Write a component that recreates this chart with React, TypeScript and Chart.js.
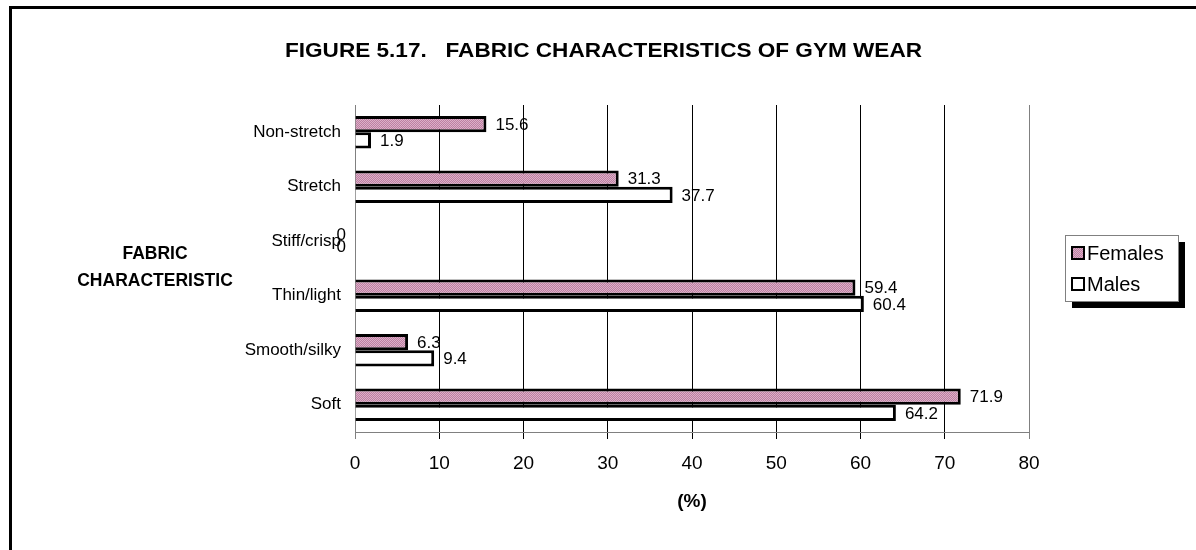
import React, { useEffect, useRef } from "react";
import { Chart, registerables } from "chart.js";

Chart.register(...registerables);

const categories = ["Non-stretch", "Stretch", "Stiff/crisp", "Thin/light", "Smooth/silky", "Soft"];
const femalesValues = [15.6, 31.3, 0, 59.4, 6.3, 71.9];
const malesValues = [1.9, 37.7, 0, 60.4, 9.4, 64.2];
const seriesNames = ["Females", "Males"];
const xTicks = [0, 10, 20, 30, 40, 50, 60, 70, 80];
const chartTitle = "FIGURE 5.17.   FABRIC CHARACTERISTICS OF GYM WEAR";
const yAxisTitle = ["FABRIC", "CHARACTERISTIC"];
const xAxisTitle = "(%)";

const FONT = "Arial, 'Liberation Sans', sans-serif";

function makePattern(): CanvasPattern | string {
  const c = document.createElement("canvas");
  c.width = 4;
  c.height = 4;
  const g = c.getContext("2d");
  if (!g) return "#cc99b8";
  g.fillStyle = "#dcb0c8";
  g.fillRect(0, 0, 4, 4);
  g.fillStyle = "#bd7fa2";
  for (let i = 0; i < 4; i++) {
    g.fillRect(i, (3 - i + 4) % 4, 1, 1);
    g.fillRect(i, (1 - i + 4) % 4, 1, 1);
  }
  const p = g.createPattern(c, "repeat");
  return p || "#cc99b8";
}

export default function App() {
  const ref = useRef<HTMLCanvasElement | null>(null);

  useEffect(() => {
    if (!ref.current) return;
    const pattern = makePattern();

    const decorPlugin = {
      id: "decor",
      afterDraw(chart: any) {
        const ctx = chart.ctx as CanvasRenderingContext2D;
        const area = chart.chartArea;
        ctx.save();
        // outer frame
        ctx.fillStyle = "#000";
        ctx.fillRect(9, 6, 1196 - 9, 3);
        ctx.fillRect(9, 6, 3, 550 - 6);

        // title
        ctx.fillStyle = "#000";
        ctx.font = `bold 20px ${FONT}`;
        ctx.textBaseline = "middle";
        ctx.textAlign = "left";
        const tw = ctx.measureText(chartTitle).width;
        const target = 637;
        ctx.save();
        ctx.translate(285, 51);
        ctx.scale(target / tw, 1);
        ctx.fillText(chartTitle, 0, 0);
        ctx.restore();

        // y axis title
        ctx.font = `bold 17.5px ${FONT}`;
        ctx.textAlign = "center";
        ctx.fillText(yAxisTitle[0], 155, 254);
        ctx.fillText(yAxisTitle[1], 155, 281);

        // x axis title
        ctx.font = `bold 19px ${FONT}`;
        ctx.fillText(xAxisTitle, (area.left + area.right) / 2, 502);

        // data labels
        ctx.font = `17px ${FONT}`;
        chart.data.datasets.forEach((ds: any, di: number) => {
          const meta = chart.getDatasetMeta(di);
          meta.data.forEach((bar: any, i: number) => {
            const v = ds.data[i];
            if (v === 0) {
              ctx.textAlign = "right";
              ctx.fillText(String(v), bar.x - 9, bar.y + (di === 0 ? 2 : -2));
            } else {
              ctx.textAlign = "left";
              ctx.fillText(String(v), bar.x + 9, bar.y + 1);
            }
          });
        });

        // legend
        const lx = 1065, ly = 235, lw = 113, lh = 66;
        ctx.fillStyle = "#000";
        ctx.fillRect(lx + 7, ly + 7, lw, lh);
        ctx.fillStyle = "#fff";
        ctx.fillRect(lx, ly, lw, lh);
        ctx.strokeStyle = "#808080";
        ctx.lineWidth = 1;
        ctx.strokeRect(lx + 0.5, ly + 0.5, lw, lh);
        const items = [
          { y: 253, fill: pattern },
          { y: 284, fill: "#fff" },
        ];
        items.forEach((it, k) => {
          ctx.fillStyle = it.fill as any;
          ctx.fillRect(1072, it.y - 6, 12, 12);
          ctx.strokeStyle = "#000";
          ctx.lineWidth = 2;
          ctx.strokeRect(1072, it.y - 6, 12, 12);
          ctx.fillStyle = "#000";
          ctx.font = `20px ${FONT}`;
          ctx.textAlign = "left";
          ctx.textBaseline = "middle";
          ctx.fillText(seriesNames[k], 1087, it.y + 1);
        });
        ctx.restore();
      },
    };

    const chart = new Chart(ref.current, {
      type: "bar",
      data: {
        labels: categories,
        datasets: [
          {
            label: seriesNames[0],
            data: femalesValues,
            backgroundColor: pattern as any,
            borderColor: "#000",
            borderWidth: 3,
            categoryPercentage: 0.6,
            barPercentage: 1,
          },
          {
            label: seriesNames[1],
            data: malesValues,
            backgroundColor: "#fff",
            borderColor: "#000",
            borderWidth: 3,
            categoryPercentage: 0.6,
            barPercentage: 1,
          },
        ],
      },
      options: {
        indexAxis: "y",
        animation: false,
        responsive: false,
        devicePixelRatio: 1,
        layout: { padding: { left: 0, top: 105, right: 167, bottom: 0 } },
        plugins: {
          legend: { display: false },
          title: { display: false },
          tooltip: { enabled: false },
        },
        scales: {
          x: {
            type: "linear",
            min: xTicks[0],
            max: xTicks[xTicks.length - 1],
            afterBuildTicks: (scale: any) => {
              scale.ticks = xTicks.map((v) => ({ value: v }));
            },
            afterFit: (scale: any) => {
              scale.height = 118;
            },
            grid: {
              color: (c: any) => (c.tick && (c.tick.value === 0 || c.tick.value === 80) ? "#808080" : "#000"),
              lineWidth: 1,
              tickLength: 7,
              drawTicks: true,
            },
            border: { display: true, color: "#808080", width: 1 },
            ticks: {
              color: "#000",
              font: { family: FONT, size: 19 },
              padding: 13,
              maxRotation: 0,
            },
          },
          y: {
            afterFit: (scale: any) => {
              scale.width = 355;
            },
            grid: { display: false, drawTicks: false },
            border: { display: false },
            ticks: {
              color: "#000",
              font: { family: FONT, size: 17 },
              padding: 14,
            },
          },
        },
      },
      plugins: [decorPlugin],
    } as any);

    return () => chart.destroy();
  }, []);

  return (
    <div style={{ position: "absolute", left: 0, top: 0, width: 1196, height: 550, background: "#fff" }}>
      <canvas ref={ref} width={1196} height={550} style={{ display: "block" }} />
    </div>
  );
}
